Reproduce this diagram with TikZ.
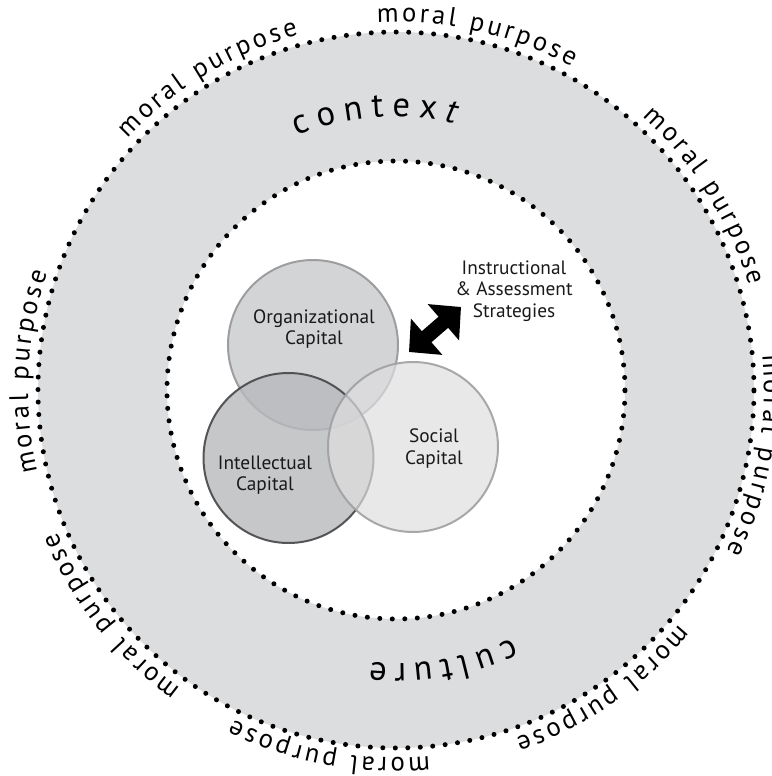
\documentclass[tikz,border=0pt]{standalone}
\usepackage{fontspec}
\setmainfont{PT Sans}
\usetikzlibrary{calc,decorations.text,arrows.meta}

\definecolor{bandGray}{RGB}{220,221,223}
\definecolor{orgFill}{RGB}{200,201,204}
\definecolor{orgLine}{RGB}{150,150,152}
\definecolor{intFill}{RGB}{184,185,188}
\definecolor{intLine}{RGB}{70,70,72}
\definecolor{socFill}{RGB}{222,222,224}
\definecolor{socLine}{RGB}{160,160,162}

\newcommand\ringfont{\fontsize{20}{20}\selectfont}
\newcommand\bandfont{\fontsize{26}{26}\selectfont}

\begin{document}
\begin{tikzpicture}[x=0.75pt,y=0.75pt,
    dotring/.style={line width=3.75pt,line cap=round,dash pattern=on 0pt off 9.37pt},
    capital/.style={circle,minimum size=127.5pt,inner sep=0pt,line width=1.5pt,
                    fill opacity=0.8,draw opacity=0.9},
    caplabel/.style={font=\fontsize{14.5}{16.1}\selectfont,align=center,text=black!90,inner sep=0pt}
  ]
  \useasboundingbox (-396,-386) rectangle (376,390);
  \coordinate (centre) at (0,0);

  % context / culture band
  \fill[bandGray,even odd rule] (centre) circle[radius=358] (centre) circle[radius=229];
  \draw[dotring] (centre) circle[radius=358];
  \draw[dotring,dash pattern=on 0pt off 9.38pt] (centre) circle[radius=229];

  % moral purpose round the rim
  \foreach \mid [evaluate=\mid as \angA using \mid+15.75,
                 evaluate=\mid as \angB using \mid-15.75]
      in {77.2,32.2,-10.3,-55.3,-100.5,-141.5,-182.9,121.1}
    \path[decorate,decoration={text along path,text align=fit to path,
          text={|\ringfont|moral purpose}}]
      ($(centre)+(\angA:368)$) arc[start angle=\angA,end angle=\angB,radius=368];

  \path[decorate,decoration={text along path,text align=fit to path,
        text={|\bandfont|contex|\bandfont\itshape|t}}]
    ($(centre)+(111.4:273)$) arc[start angle=111.4,end angle=77.5,radius=273];
  \path[decorate,decoration={text along path,text align=fit to path,
        text={|\bandfont|culture}}]
    ($(centre)+(-64.9:274)$) arc[start angle=-64.9,end angle=-95.5,radius=274];

  % the three capitals
  \node[capital,fill=orgFill,draw=orgLine] (organizational) at (-83,45) {};
  \node[capital,fill=intFill,draw=intLine] (intellectual) at (-107.5,-68) {};
  \node[capital,fill=socFill,draw=socLine,fill opacity=0.7] (social) at (17,-57) {};

  \node[caplabel] (orgText) at ($(organizational)+(1,16)$) {Organizational\\Capital};
  \node[caplabel] (intText) at ($(intellectual)+(-23.5,-17)$) {Intellectual\\Capital};
  \node[caplabel] (socText) at ($(social)+(21,-1.5)$) {Social\\Capital};

  % strategies arrow
  \node[caplabel] (strategies) at (118,99) {Instructional\\\& Assessment\\Strategies};
  \coordinate (arrowLow) at (13,38);
  \coordinate (arrowHigh) at (65,83);
  \draw[line width=11pt,{Triangle[length=17.5pt,width=35pt]}-{Triangle[length=17.5pt,width=35pt]}]
    (arrowLow) -- (arrowHigh);
\end{tikzpicture}
\end{document}
